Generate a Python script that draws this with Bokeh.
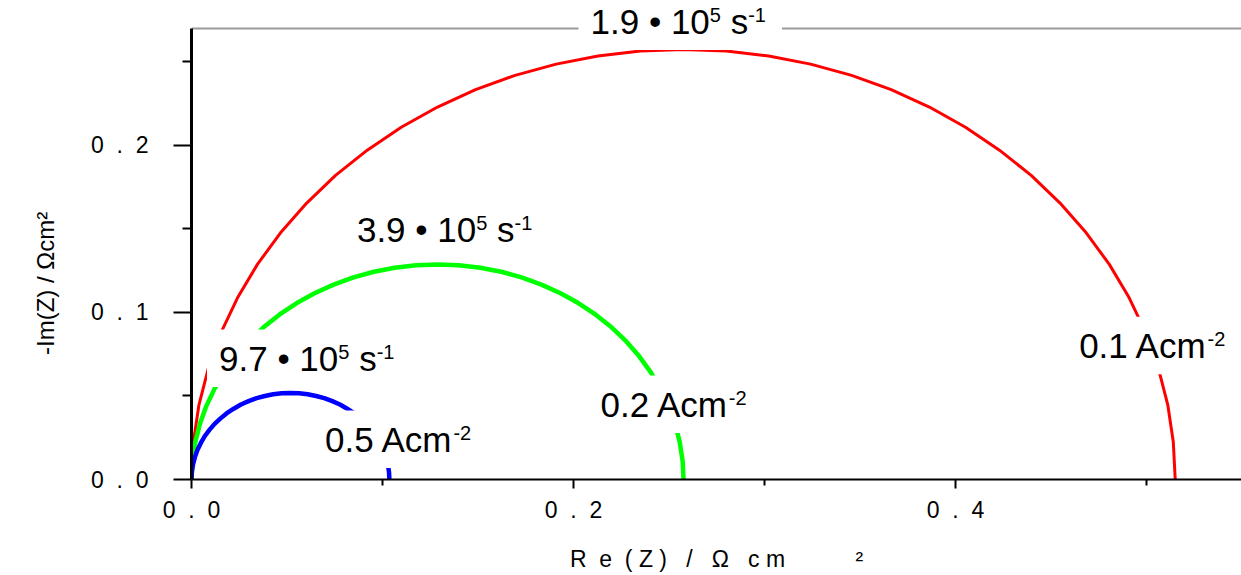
from bokeh.plotting import figure
from bokeh.models import Range1d, FixedTicker, Label, Span, BoxAnnotation, CustomJSTickFormatter
from bokeh.embed import file_html
from bokeh.resources import INLINE

# Nyquist spectra, Re(Z) and -Im(Z) in Ohm cm^2, one per current density
re_01 = [0.0, 0.001, 0.0039, 0.0088, 0.0155, 0.0241, 0.0345, 0.0466, 0.0603, 0.0754,
         0.092, 0.1098, 0.1288, 0.1487, 0.1694, 0.1909, 0.2128, 0.235, 0.2575, 0.28,
         0.3022, 0.3241, 0.3456, 0.3663, 0.3863, 0.4052, 0.423, 0.4396, 0.4547, 0.4684,
         0.4805, 0.4909, 0.4995, 0.5062, 0.5111, 0.514, 0.515]
im_01 = [0.0, 0.0224, 0.0447, 0.0666, 0.0881, 0.1088, 0.1288, 0.1477, 0.1655, 0.1821,
         0.1972, 0.2109, 0.223, 0.2334, 0.242, 0.2487, 0.2536, 0.2565, 0.2575, 0.2565,
         0.2536, 0.2487, 0.242, 0.2334, 0.223, 0.2109, 0.1972, 0.1821, 0.1655, 0.1477,
         0.1288, 0.1088, 0.0881, 0.0666, 0.0447, 0.0224, 0.0]

re_02 = [0.0, 0.0005, 0.002, 0.0044, 0.0078, 0.0121, 0.0173, 0.0233, 0.0301, 0.0377,
         0.046, 0.0549, 0.0644, 0.0744, 0.0848, 0.0955, 0.1064, 0.1176, 0.1288, 0.14,
         0.1512, 0.1621, 0.1728, 0.1832, 0.1932, 0.2027, 0.2116, 0.2199, 0.2275, 0.2343,
         0.2403, 0.2455, 0.2498, 0.2532, 0.2556, 0.2571, 0.2576]
im_02 = [0.0, 0.0112, 0.0224, 0.0333, 0.0441, 0.0544, 0.0644, 0.0739, 0.0828, 0.0911,
         0.0987, 0.1055, 0.1115, 0.1167, 0.121, 0.1244, 0.1268, 0.1283, 0.1288, 0.1283,
         0.1268, 0.1244, 0.121, 0.1167, 0.1115, 0.1055, 0.0987, 0.0911, 0.0828, 0.0739,
         0.0644, 0.0544, 0.0441, 0.0333, 0.0224, 0.0112, 0.0]

re_05 = [0.0, 0.0002, 0.0008, 0.0018, 0.0031, 0.0049, 0.0069, 0.0094, 0.0121, 0.0152,
         0.0185, 0.0221, 0.0259, 0.0299, 0.0341, 0.0384, 0.0428, 0.0473, 0.0518, 0.0563,
         0.0608, 0.0652, 0.0695, 0.0737, 0.0777, 0.0815, 0.0851, 0.0884, 0.0915, 0.0942,
         0.0967, 0.0987, 0.1005, 0.1018, 0.1028, 0.1034, 0.1036]
im_05 = [0.0, 0.0045, 0.009, 0.0134, 0.0177, 0.0219, 0.0259, 0.0297, 0.0333, 0.0366,
         0.0397, 0.0424, 0.0449, 0.0469, 0.0487, 0.05, 0.051, 0.0516, 0.0518, 0.0516,
         0.051, 0.05, 0.0487, 0.0469, 0.0449, 0.0424, 0.0397, 0.0366, 0.0333, 0.0297,
         0.0259, 0.0219, 0.0177, 0.0134, 0.009, 0.0045, 0.0]

current_density = ["0.1", "0.2", "0.5"]      # A cm^-2
char_frequency = ["1.9", "3.9", "9.7"]       # x 10^5 s^-1

x_ticks = [0.0, 0.2, 0.4]
x_minor = [0.1, 0.3, 0.5]
y_ticks = [0.0, 0.1, 0.2]
y_minor = [0.05, 0.15, 0.25]
y_top = 0.27

FONT = "Liberation Sans"
NB = "\u00a0"
MAIN = 35   # tag font size, px
SUP = 20    # superscript font size, px
CAP = 0.716     # cap height of the face, em
LIFT = 0.4      # baseline correction for the label text box, em

W, H = 1241, 575
LEFT, BOTTOM = 191, 96
X_END, Y_END = 0.5497, 0.2868
PX_X = (W - LEFT) / X_END        # pixels per Ohm cm^2, horizontal
PX_Y = (H - BOTTOM) / Y_END      # pixels per Ohm cm^2, vertical

p = figure(width=W, height=H, output_backend="svg", toolbar_location=None,
           x_range=Range1d(0, X_END), y_range=Range1d(0, Y_END),
           min_border_left=LEFT, min_border_right=0, min_border_top=0, min_border_bottom=BOTTOM)
p.outline_line_color = None
p.grid.grid_line_color = None
p.background_fill_color = "white"
p.border_fill_color = "white"

# top rule of the frame; the frequency tag breaks it
p.add_layout(Span(location=y_top, dimension="width", line_color="#9a9a9a",
                  line_width=2, level="underlay"))

p.line(re_01, im_01, line_color="#ff0000", line_width=3)
p.line(re_02, im_02, line_color="#00ff00", line_width=4.5)
p.line(re_05, im_05, line_color="#0000ff", line_width=4.5)

spaced = CustomJSTickFormatter(code="return tick.toFixed(1).split('').join('\\u00a0\\u00a0');")

for ax in (p.xaxis[0], p.yaxis[0]):
    ax.formatter = spaced
    ax.major_label_text_font = FONT
    ax.major_label_text_font_size = "23px"
    ax.major_label_text_color = "black"
    ax.axis_line_color = "black"
    ax.major_tick_line_color = "black"
    ax.minor_tick_line_color = "black"
    ax.major_tick_line_width = 2
    ax.minor_tick_line_width = 2
    ax.major_tick_in = 0
    ax.minor_tick_in = 0
    ax.axis_label_text_font = FONT
    ax.axis_label_text_font_style = "normal"
    ax.axis_label_text_color = "black"

p.xaxis.ticker = FixedTicker(ticks=x_ticks, minor_ticks=x_minor)
p.xaxis.axis_line_width = 2
p.xaxis.major_tick_out = 9
p.xaxis.minor_tick_out = 6
p.xaxis.major_label_standoff = 8
p.xaxis.axis_label = ("R" + NB * 2 + "e" + NB * 2 + "(" + NB + "Z" + NB + ")" + NB * 3 + "/"
                      + NB * 3 + "Ω" + NB * 3 + "c" + NB + "m" + NB * 11 + "²")
p.xaxis.axis_label_text_font_size = "23px"
p.xaxis.axis_label_standoff = 20

p.yaxis.ticker = FixedTicker(ticks=y_ticks, minor_ticks=y_minor)
p.yaxis.bounds = (0, y_top)
p.yaxis.axis_line_width = 3
p.yaxis.major_tick_out = 18
p.yaxis.minor_tick_out = 9
p.yaxis.major_label_standoff = 25
p.yaxis.axis_label = "-Im(Z) / Ωcm²" + NB * 13
p.yaxis.axis_label_text_font_size = "24px"
p.yaxis.axis_label_standoff = 29

# Arial advance widths (em) for the characters used in the tags
ADV = {"0": 0.556, "1": 0.556, "2": 0.556, "3": 0.556, "4": 0.556, "5": 0.556,
       "6": 0.556, "7": 0.556, "8": 0.556, "9": 0.556, ".": 0.278, " ": 0.278,
       "•": 0.35, "s": 0.5, "A": 0.667, "c": 0.5, "m": 0.833, "-": 0.333}


def width(text, size):
    return sum(ADV[ch] for ch in text) * size


def tag(x, y, parts):
    """Left-aligned tag at baseline (x, y) on a white plate; parts are (text, is_superscript)."""
    offsets, pos = [], 0.0
    for text, sup in parts:
        offsets.append(pos)
        pos += width(text, SUP if sup else MAIN)
    p.add_layout(BoxAnnotation(left=x - 12 / PX_X, right=x + (pos + 16) / PX_X,
                               bottom=y - 14.5 / PX_Y, top=y + 43 / PX_Y,
                               fill_color="white", fill_alpha=1.0, line_color=None))
    for (text, sup), off in zip(parts, offsets):
        if not text.strip():
            continue
        size = SUP if sup else MAIN
        raise_px = CAP * (MAIN - SUP) + 2 if sup else 0.0
        p.add_layout(Label(x=x, y=y, x_offset=off, y_offset=raise_px + LIFT * size,
                           text=text, text_align="left", text_baseline="alphabetic",
                           text_font=FONT, text_font_size=f"{size}px", text_color="black"))


def freq_tag(x, y, value):
    tag(x, y, [(value + " • 10", False), ("5", True), (" ", False), ("s", False), ("-1", True)])


def current_tag(x, y, value):
    tag(x, y, [(value + " Acm", False), ("-2", True)])


freq_tag(0.2089, 0.2659, char_frequency[0])
freq_tag(0.0866, 0.1413, char_frequency[1])
freq_tag(0.0144, 0.0641, char_frequency[2])
current_tag(0.4647, 0.0717, current_density[0])
current_tag(0.2141, 0.0365, current_density[1])
current_tag(0.0699, 0.0156, current_density[2])

open("out.html", "w").write(file_html(p, INLINE))
